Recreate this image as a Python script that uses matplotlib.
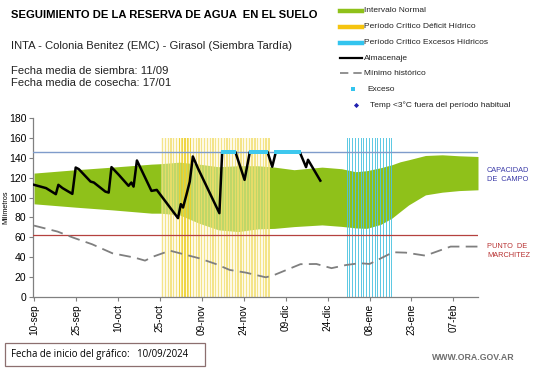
import numpy as np
import matplotlib
matplotlib.use("Agg")
import matplotlib.pyplot as plt
from matplotlib.lines import Line2D
from matplotlib.patches import Rectangle

plt.rcParams['font.family'] = ['Liberation Sans', 'DejaVu Sans']

# ---------------- data (day 0 = 10-sep-2024) ----------------
tick_days = [0, 15, 30, 45, 60, 75, 90, 105, 120, 135, 150]
tick_labels = ['10-sep', '25-sep', '10-oct', '25-oct', '09-nov', '24-nov',
               '09-dic', '24-dic', '08-ene', '23-ene', '07-feb']

band_days = [0, 15, 28, 42, 45, 52, 59, 66, 73, 80, 86, 93, 103, 110, 115, 119,
             124, 128, 131, 134, 140, 146, 152, 158.8]
band_upper = [124.6, 128, 130.6, 133.6, 134, 135.6, 133.6, 131, 132, 132, 130.6,
              128, 130.6, 129, 126, 127, 130, 133, 136, 138, 142.3, 143, 142, 141.3]
band_lower = [93.7, 90.3, 87.6, 84.3, 84.3, 82.6, 74.2, 67.5, 65.8, 68.5, 69, 70.8,
              72.5, 71, 69.5, 69, 73, 79.3, 86, 92.6, 102.7, 105.4, 107, 107.8]

min_days = [0, 8.4, 14, 20.8, 28, 36, 39.7, 42.6, 48.6, 59, 65, 70, 75.8, 82.9,
            85.8, 95.3, 101, 106.4, 111.7, 116.5, 120, 128.4, 133, 140, 149, 158.8]
min_vals = [71.8, 65.8, 59.7, 53, 44, 39.6, 36.6, 40.6, 46.6, 39, 33.2, 27.2, 24.5,
            19.8, 22, 33, 33.2, 29, 32.2, 34, 33.2, 45, 44.6, 41.6, 50.7, 50.7]

alm_days = [0, 4.3, 7.8, 8.7, 10.2, 13.7, 14.9, 16, 20.2, 21.4, 25.5, 26.7, 27.7,
            30.3, 33.8, 34.8, 35.6, 36.8, 42, 43.9, 51.5, 52.5, 53.3, 54.5, 55.7,
            56.8, 58.6, 66.3, 67.3, 72, 75.3, 77.2, 83.5, 85.2, 86.5, 95, 97.3, 98,
            102.4]
alm_vals = [112.8, 109.5, 103.4, 112.8, 109.5, 103.7, 130.2, 128.6, 116.1, 115.1,
            106, 105, 130.6, 122.9, 111.8, 115.1, 111, 137.3, 106.7, 107.7, 79.3,
            93.4, 90, 102.7, 116, 141.3, 129.6, 84.3, 146, 146, 117.8, 146, 146,
            131, 146, 146, 130.6, 138, 117]

exceso_days = [67.5, 68.3, 69.1, 69.9, 70.7, 71.5, 77.5, 78.3, 79.1, 79.9, 80.7,
               81.5, 82.3, 83.1, 86.7, 87.5, 88.3, 89.1, 89.9, 90.7, 91.5, 92.3,
               93.1, 93.9, 94.7]
exceso_val = 146

capacidad_campo = 146
punto_marchitez = 62

deficit_period = (46, 84)       # Período crítico déficit hídrico
deficit_peak = (52, 56)
excesos_period = (112, 128)     # Período crítico excesos hídricos

# ---------------- colours ----------------
GREEN = '#8FC11A'
YELLOW = '#F2DE6A'
GOLD = '#EBC800'
CYAN = '#4EC3E0'
CC_BLUE = '#7F9CCB'
PM_RED = '#B5413F'

fig = plt.figure(figsize=(5.41, 3.68), dpi=100)
ax = fig.add_axes([33.2 / 541, 1 - 297 / 368, (478 - 33.2) / 541, (297 - 118) / 368])

# normal interval band
ax.fill_between(band_days, band_lower, band_upper, color=GREEN, lw=0, zorder=1)

# critical period stripes
ax.axvspan(deficit_period[0] - 0.5, deficit_period[1] + 0.5, ymax=160 / 180,
           color='#FBF3C8', alpha=0.45, lw=0, zorder=1.5)
d_days = np.arange(deficit_period[0], deficit_period[1] + 1)
ax.bar(d_days, 160, width=0.45, color=YELLOW, alpha=0.75, lw=0, zorder=2)
p_days = np.arange(deficit_peak[0], deficit_peak[1] + 1)
ax.bar(p_days, 160, width=0.6, color=GOLD, alpha=0.5, lw=0, zorder=2.1)
e_days = np.arange(excesos_period[0], excesos_period[1] + 1)
ax.bar(e_days, 160, width=0.35, color=CYAN, alpha=0.9, lw=0, zorder=2)

# reference lines
ax.axhline(capacidad_campo, color=CC_BLUE, lw=1.0, zorder=3)
ax.axhline(punto_marchitez, color=PM_RED, lw=0.9, zorder=3)

# minimum historic
ax.plot(min_days, min_vals, color='#7F7F7F', lw=1.3, dashes=(6.5, 3.5), zorder=4)

# storage
ax.plot(alm_days, alm_vals, color='black', lw=1.8, zorder=5, solid_joinstyle='round')
ax.plot(exceso_days, [exceso_val] * len(exceso_days), ls='none', marker='s',
        ms=2.6, color='#3EC8EE', mew=0, zorder=6)

ax.set_xlim(-0.3, 158.8)
ax.set_ylim(0, 180)
ax.set_yticks(range(0, 181, 20))
ax.set_xticks(tick_days)
ax.set_xticklabels(tick_labels, rotation=90, fontsize=7.2)
ax.tick_params(axis='y', labelsize=7.5, length=3, color='#808080', pad=2)
ax.tick_params(axis='x', length=3, color='#808080', pad=2)
for s in ['top', 'right']:
    ax.spines[s].set_visible(False)
for s in ['left', 'bottom']:
    ax.spines[s].set_color('#808080')
    ax.spines[s].set_linewidth(0.9)
ax.set_ylabel('Milímetros', fontsize=5.2)
ax.yaxis.set_label_coords(-0.054, 0.5)

# right-side labels
fig.text(487 / 541, 1 - 175 / 368, 'CAPACIDAD\nDE  CAMPO', color='#3B3BA8',
         fontsize=5.3, va='center', ha='left', linespacing=1.25)
fig.text(487 / 541, 1 - 251 / 368, 'PUNTO  DE\nMARCHITEZ', color='#B83232',
         fontsize=5.3, va='center', ha='left', linespacing=1.25)

# titles
fig.text(11 / 541, 1 - 15 / 368, 'SEGUIMIENTO DE LA RESERVA DE AGUA  EN EL SUELO',
         fontsize=8.1, fontweight='bold', va='center', ha='left')
fig.text(11 / 541, 1 - 46 / 368, 'INTA - Colonia Benitez (EMC) - Girasol (Siembra Tardía)',
         fontsize=8.1, va='center', ha='left', color='#222222')
fig.text(11 / 541, 1 - 71 / 368, 'Fecha media de siembra: 11/09',
         fontsize=8.1, va='center', ha='left', color='#222222')
fig.text(11 / 541, 1 - 83.5 / 368, 'Fecha media de cosecha: 17/01',
         fontsize=8.1, va='center', ha='left', color='#222222')

# legend (manual)
def fx(x):
    return x / 541


def fy(y):
    return 1 - y / 368


lx0, lx1, tx = 340, 362, 364
rows = [11, 26.7, 42.7, 58.3, 73.3, 89.3, 105]
fig.add_artist(Line2D([fx(lx0), fx(lx1)], [fy(rows[0])] * 2, color=GREEN, lw=3.2))
fig.add_artist(Line2D([fx(lx0), fx(lx1)], [fy(rows[1])] * 2, color='#F5C40F', lw=3.2))
fig.add_artist(Line2D([fx(lx0), fx(lx1)], [fy(rows[2])] * 2, color='#33C4EE', lw=3.2))
fig.add_artist(Line2D([fx(lx0), fx(lx1)], [fy(rows[3])] * 2, color='black', lw=1.6))
fig.add_artist(Line2D([fx(lx0), fx(lx1)], [fy(rows[4])] * 2, color='#7F7F7F', lw=1.2,
                      dashes=(5, 3)))
fig.add_artist(Line2D([fx(353)], [fy(rows[5])], marker='s', ms=2.2, color='#33C4EE', mew=0))
fig.add_artist(Line2D([fx(356)], [fy(rows[6])], marker='D', ms=2.6, color='#1F1FB0', mew=0))
leg_txt = ['Intervalo Normal', 'Período Crítico Déficit Hídrico',
           'Período Crítico Excesos Hídricos', 'Almacenaje', 'Mínimo histórico',
           'Exceso', 'Temp <3°C fuera del período habitual']
leg_x = [tx, tx, tx, tx, tx, 367, 370]
for t, x, y in zip(leg_txt, leg_x, rows):
    fig.text(fx(x), fy(y), t, fontsize=6.0, va='center', ha='left', color='#222222')

# bottom box
fig.add_artist(Rectangle((fx(5), fy(366)), fx(205) - fx(5), fy(343) - fy(366),
                         fill=False, ec='#8C6F6F', lw=0.9))
fig.text(fx(11), fy(355), 'Fecha de inicio del gráfico:   10/09/2024',
         fontsize=6.9, va='center', ha='left', family=['Open Sans', 'DejaVu Sans'])
fig.text(fx(515), fy(358), 'WWW.ORA.GOV.AR', fontsize=6.3, va='center', ha='right',
         color='#6E6E6E', fontweight='bold')

fig.savefig('out.png', dpi=100)
